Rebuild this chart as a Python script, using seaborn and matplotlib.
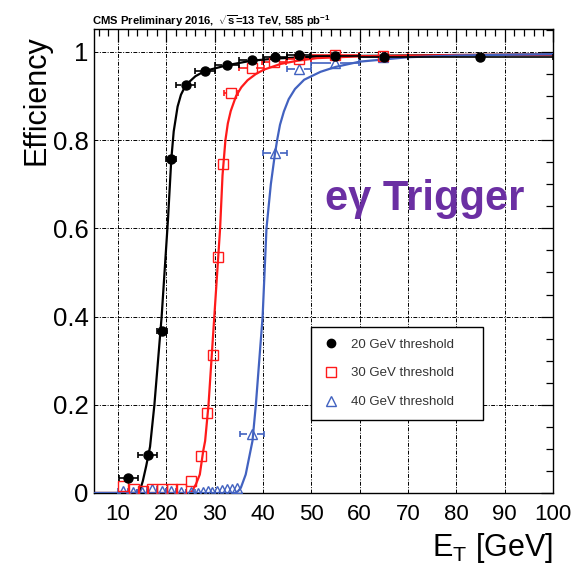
import numpy as np
import pandas as pd
import matplotlib
matplotlib.use("Agg")
import matplotlib.pyplot as plt
import seaborn as sns
from matplotlib import font_manager
from matplotlib.lines import Line2D
from matplotlib.ticker import MultipleLocator, FuncFormatter

# ---------------- data ----------------
series_names = ["20 GeV threshold", "30 GeV threshold", "40 GeV threshold"]

black_x = [12.1, 16.1, 19.1, 21.0, 24.0, 28.0, 32.5, 37.6, 42.5, 47.5, 54.8, 65.0, 84.9]
black_y = [0.035, 0.086, 0.368, 0.757, 0.926, 0.957, 0.971, 0.982, 0.988, 0.992, 0.990, 0.988, 0.988]
black_xerr = [2, 2, 1, 1, 2, 2, 2.5, 2.5, 2.5, 2.5, 5, 5, 15]

red_x = [11.1, 13.2, 15.1, 17.0, 19.1, 21.2, 23.0, 25.1, 27.1, 28.4, 29.6, 30.7, 31.6,
         33.4, 37.6, 42.3, 47.5, 54.9, 64.9]
red_y = [0.016, 0.010, 0.004, 0.010, 0.010, 0.008, 0.008, 0.027, 0.084, 0.182, 0.313, 0.535, 0.745,
         0.907, 0.964, 0.978, 0.983, 0.992, 0.991]
red_xerr = [1, 1, 1, 1, 1, 1, 1, 1, 1, 0.5, 0.5, 0.5, 0.5, 1.5, 2.5, 2.5, 2.5, 5, 5]

blue_x = [11, 13, 15, 17, 19, 21, 23, 25, 26.5, 27.5, 28.5, 29.5, 30.5, 31.5, 32.5, 33.5, 34.5,
          37.7, 42.5, 47.5, 54.9, 64.9]
blue_y = [0.004, 0.002, 0.003, 0.008, 0.004, 0.005, 0.003, 0.002, 0.001, 0.002, 0.004, 0.003,
          0.005, 0.006, 0.008, 0.010, 0.012, 0.133, 0.770, 0.962, 0.976, 0.989]
blue_xerr = [1, 1, 1, 1, 1, 1, 1, 1, 0.5, 0.5, 0.5, 0.5, 0.5, 0.5, 0.5, 0.5, 0.5,
             2.5, 2.5, 2.5, 5, 5]

# fitted curves
black_curve_x = [5, 14.0, 14.4, 15.1, 15.8, 16.6, 17.5, 19.0, 20.3, 21.0, 21.5, 22.3, 23.0, 24.0,
                 26.0, 28.0, 32.6, 37.5, 42.6, 50, 60, 80, 100]
black_curve_y = [0, 0, 0.002, 0.027, 0.061, 0.105, 0.20, 0.40, 0.618, 0.757, 0.82, 0.876, 0.903,
                 0.925, 0.945, 0.957, 0.970, 0.980, 0.985, 0.989, 0.991, 0.993, 0.994]

red_curve_x = [5, 24.8, 25.3, 26.1, 26.9, 27.6, 28.0, 28.7, 29.9, 31.1, 31.6, 32.2, 32.7, 33.3,
               34.4, 35.5, 36.8, 38.5, 40.2, 43.7, 47.1, 51.2, 60, 80, 100]
red_curve_y = [0, 0, 0.004, 0.020, 0.042, 0.095, 0.118, 0.20, 0.40, 0.60, 0.72, 0.80, 0.838, 0.866,
               0.900, 0.920, 0.936, 0.950, 0.960, 0.973, 0.980, 0.986, 0.990, 0.993, 0.994]

blue_curve_x = [5, 34.2, 34.8, 35.4, 36.4, 37.8, 38.5, 39.9, 40.7, 41.6, 42.4, 42.9, 43.5, 44.3,
                45.3, 46.6, 48.5, 51.9, 55, 60, 70, 80, 100]
blue_curve_y = [0, 0, 0.004, 0.012, 0.042, 0.118, 0.20, 0.40, 0.60, 0.70, 0.765, 0.80, 0.835, 0.865,
                0.893, 0.916, 0.937, 0.955, 0.966, 0.978, 0.988, 0.992, 0.995]

x_ticks = [10, 20, 30, 40, 50, 60, 70, 80, 90, 100]
y_ticks = [0, 0.2, 0.4, 0.6, 0.8, 1.0]

# ---------------- style ----------------
sns.set_theme(style="white")
plt.rcParams["font.family"] = ["Liberation Sans", "DejaVu Sans"]
plt.rcParams["mathtext.fontset"] = "custom"
plt.rcParams["mathtext.rm"] = "Liberation Sans"
plt.rcParams["mathtext.bf"] = "Liberation Sans:bold"
plt.rcParams["mathtext.it"] = "Liberation Sans:italic"

installed = {f.name for f in font_manager.fontManager.ttflist}
narrow = "Liberation Sans Narrow" in installed

colors = {"20 GeV threshold": "#000000", "30 GeV threshold": "#FF1A1A", "40 GeV threshold": "#4262C0"}

fig = plt.figure(figsize=(5.77, 5.65), dpi=100)
ax = fig.add_axes([94 / 577, 1 - 493 / 565, (553 - 94) / 577, (493 - 29) / 565])

ax.set_xlim(5, 100)
ax.set_ylim(0, 1.052)

# grid
ax.set_axisbelow(True)
ax.grid(True, which="major", color="black", linestyle=(0, (4, 1.5, 1, 1.5)), linewidth=0.7)

# fit curves
curves = pd.concat([
    pd.DataFrame({"x": black_curve_x, "eff": black_curve_y, "series": series_names[0]}),
    pd.DataFrame({"x": red_curve_x, "eff": red_curve_y, "series": series_names[1]}),
    pd.DataFrame({"x": blue_curve_x, "eff": blue_curve_y, "series": series_names[2]}),
], ignore_index=True)
sns.lineplot(data=curves, x="x", y="eff", hue="series", palette=colors, sort=False,
             estimator=None, legend=False, ax=ax, linewidth=1.6, zorder=3)

# horizontal error bars that stop at the marker edge (ROOT style)
pt_per_unit = ax.get_window_extent().width / (100 - 5) * 72 / fig.dpi  # points per GeV


def draw_points(x, y, xerr, color, marker, ms, filled, z):
    gap = (ms / 2) / pt_per_unit
    for xi, yi, ei in zip(x, y, xerr):
        if ei > gap:
            ax.plot([xi - ei, xi - gap], [yi, yi], color=color, lw=1.2, zorder=z, solid_capstyle="butt")
            ax.plot([xi + gap, xi + ei], [yi, yi], color=color, lw=1.2, zorder=z, solid_capstyle="butt")
            ax.plot([xi - ei, xi + ei], [yi, yi], linestyle="none", marker="|", ms=5, mew=1.2,
                    color=color, zorder=z)
    ax.plot(x, y, linestyle="none", marker=marker, ms=ms, mfc=color if filled else "none",
            mec=color, mew=1.0, zorder=z + 0.5)


draw_points(blue_x, blue_y, blue_xerr, colors[series_names[2]], "^", 6.5, False, 4)
draw_points(red_x, red_y, red_xerr, colors[series_names[1]], "s", 7, False, 5)
draw_points(black_x, black_y, black_xerr, "black", "o", 6.5, True, 6)

# axes / ticks
ax.xaxis.set_minor_locator(MultipleLocator(2))
ax.yaxis.set_minor_locator(MultipleLocator(0.05))
ax.set_xticks(x_ticks)
ax.set_yticks(y_ticks)
ax.xaxis.set_major_formatter(FuncFormatter(lambda v, p: f"{v:g}"))
ax.yaxis.set_major_formatter(FuncFormatter(lambda v, p: f"{v:g}"))
ax.tick_params(which="both", direction="in", top=True, right=True, color="black", width=0.9)
ax.tick_params(which="major", length=9, labelcolor="black")
ax.tick_params(which="minor", length=5)
ax.tick_params(axis="x", which="major", pad=8, labelsize=16)
ax.tick_params(axis="y", which="major", pad=4, labelsize=18.5)
for s in ax.spines.values():
    s.set_color("black")
    s.set_linewidth(1.0)
ax.set_xlabel("")
ax.set_ylabel("")

# axis titles
fig.text(36 / 577, 1 - 35 / 565, "Efficiency", rotation=90, ha="center", va="top", fontsize=22,
         color="black")
fig.text(553 / 577, 1 - 556 / 565, r"E$_{\mathrm{T}}$ [GeV]", ha="right", va="baseline",
         fontsize=22, color="black")

# header
if narrow:
    hdr_family = ["Liberation Sans Narrow", "Liberation Sans", "DejaVu Sans"]
    hdr_size = 9.6
else:
    hdr_family = ["Liberation Sans", "DejaVu Sans"]
    hdr_size = 8.1
fig.text(92 / 577, 1 - 25 / 565,
         r"CMS Preliminary 2016,  $\mathbf{\sqrt{s}}$=13 TeV, 585 pb$^{\mathbf{-1}}$",
         ha="left", va="baseline", fontsize=hdr_size, fontweight="bold", color="black",
         family=hdr_family)

# trigger label
fig.text(325 / 577, 1 - 210 / 565, "e\u03b3 Trigger", ha="left", va="baseline", fontsize=30,
         fontweight="bold", color="#6B2FA3")

# legend
handles = [
    Line2D([], [], linestyle="none", marker="o", ms=6, mfc="black", mec="black"),
    Line2D([], [], linestyle="none", marker="s", ms=7, mfc="none", mec=colors[series_names[1]], mew=1.0),
    Line2D([], [], linestyle="none", marker="^", ms=6.5, mfc="none", mec=colors[series_names[2]], mew=1.0),
]
leg = ax.legend(handles, series_names, loc="lower left",
                bbox_to_anchor=((311 - 94) / 459, (493 - 420) / 464, (483 - 311) / 459, (420 - 331) / 464),
                mode="expand", borderaxespad=0, frameon=True, fancybox=False, framealpha=1,
                edgecolor="black", fontsize=9.5, handlelength=1.2, handletextpad=0.9,
                labelspacing=1.25, borderpad=0.9, labelcolor="#333333")
leg.get_frame().set_linewidth(1.0)
leg.set_zorder(10)

fig.savefig("out.png", dpi=100)
